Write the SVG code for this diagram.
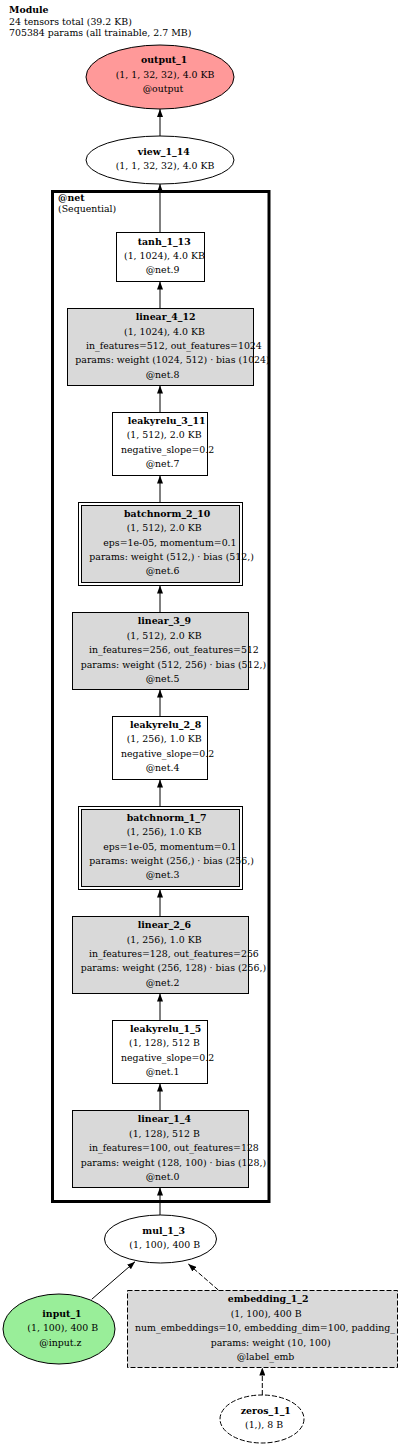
<svg xmlns="http://www.w3.org/2000/svg" width="400" height="1447" viewBox="0 0 400 1447">
<style>
text{font-family:"DejaVu Serif","Liberation Serif",serif;font-size:9.4px;fill:#000}
.b{font-weight:bold}
.n{stroke:#000;stroke-width:1;fill:#fff}
.g{fill:#d9d9d9}
.d{stroke-dasharray:5,2}
.e{stroke:#000;stroke-width:1;fill:none}
</style>
<defs>
<marker id="ah" markerUnits="userSpaceOnUse" markerWidth="8" markerHeight="6" refX="8" refY="3" orient="auto">
<path d="M0,0 L8,3 L0,6 z" fill="#000"/>
</marker>
</defs>
<g id="header">
<text class="b" x="9" y="13">Module</text>
<text x="9" y="24.5">24 tensors total (39.2 KB)</text>
<text x="9" y="35.5">705384 params (all trainable, 2.7 MB)</text>
</g>
<g id="cluster_net">
<rect x="52.5" y="191.5" width="216.5" height="1010" fill="none" stroke="#000" stroke-width="3"/>
<text class="b" x="58" y="201">@net</text>
<text x="58" y="212">(Sequential)</text>
</g>
<g id="edges">
<line class="e" x1="160" y1="136" x2="160" y2="109" marker-end="url(#ah)"/>
<line class="e" x1="160" y1="232.5" x2="160" y2="184" marker-end="url(#ah)"/>
<line class="e" x1="160" y1="308.5" x2="160" y2="281.5" marker-end="url(#ah)"/>
<line class="e" x1="160" y1="412.5" x2="160" y2="385.5" marker-end="url(#ah)"/>
<line class="e" x1="160" y1="502.5" x2="160" y2="475.5" marker-end="url(#ah)"/>
<line class="e" x1="160" y1="612.5" x2="160" y2="585.5" marker-end="url(#ah)"/>
<line class="e" x1="160" y1="716.5" x2="160" y2="689.5" marker-end="url(#ah)"/>
<line class="e" x1="160" y1="806.5" x2="160" y2="779.5" marker-end="url(#ah)"/>
<line class="e" x1="160" y1="916.5" x2="160" y2="889.5" marker-end="url(#ah)"/>
<line class="e" x1="160" y1="1020.5" x2="160" y2="993.5" marker-end="url(#ah)"/>
<line class="e" x1="160" y1="1110.5" x2="160" y2="1083.5" marker-end="url(#ah)"/>
<line class="e" x1="160" y1="1215" x2="160" y2="1187.5" marker-end="url(#ah)"/>
<line class="e" x1="91.7" y1="1299.3" x2="135" y2="1261.7" marker-end="url(#ah)"/>
<line class="e d" x1="218.3" y1="1290" x2="188.3" y2="1264" marker-end="url(#ah)"/>
<line class="e d" x1="262.3" y1="1395" x2="262.3" y2="1367.5" marker-end="url(#ah)"/>
</g>
<g id="output_1">
<ellipse cx="160" cy="77" rx="74" ry="32" stroke="#000" fill="#ff9999"/>
<text class="b" x="141" y="63.3">output_1</text>
<text x="115.7" y="77.7">(1, 1, 32, 32), 4.0 KB</text>
<text x="142.7" y="92.3">@output</text>
</g>
<g id="view_1_14">
<ellipse class="n" cx="160" cy="160" rx="74" ry="24"/>
<text class="b" x="137.7" y="155">view_1_14</text>
<text x="115.7" y="169.3">(1, 1, 32, 32), 4.0 KB</text>
</g>
<g id="tanh_1_13">
<rect class="n" x="116.5" y="232.5" width="88" height="49"/>
<text class="b" x="137.7" y="245">tanh_1_13</text>
<text x="124" y="259.2">(1, 1024), 4.0 KB</text>
<text x="145.7" y="273.4">@net.9</text>
</g>
<g id="linear_4_12">
<rect class="n g" x="67.5" y="308.5" width="186" height="77"/>
<text class="b" x="135.7" y="320.3">linear_4_12</text>
<text x="124" y="334.6">(1, 1024), 4.0 KB</text>
<text x="86" y="348.9">in_features=512, out_features=1024</text>
<text x="75.3" y="363.2">params: weight (1024, 512) · bias (1024)</text>
<text x="145.7" y="377.6">@net.8</text>
</g>
<g id="leakyrelu_3_11">
<rect class="n" x="112.5" y="412.5" width="95" height="63"/>
<text class="b" x="127.7" y="423.6">leakyrelu_3_11</text>
<text x="126.7" y="438.1">(1, 512), 2.0 KB</text>
<text x="121" y="452.6">negative_slope=0.2</text>
<text x="145.7" y="467.1">@net.7</text>
</g>
<g id="batchnorm_2_10">
<rect class="n" x="78.5" y="502.5" width="164" height="83"/>
<rect class="n g" x="81.5" y="505.5" width="158" height="77"/>
<text class="b" x="124" y="516.8">batchnorm_2_10</text>
<text x="126.7" y="531.2">(1, 512), 2.0 KB</text>
<text x="103.3" y="545.6">eps=1e-05, momentum=0.1</text>
<text x="89.3" y="560">params: weight (512,) · bias (512,)</text>
<text x="145.7" y="574.4">@net.6</text>
</g>
<g id="linear_3_9">
<rect class="n g" x="72.5" y="612.5" width="176" height="77"/>
<text class="b" x="137.7" y="624.4">linear_3_9</text>
<text x="126.7" y="638.8">(1, 512), 2.0 KB</text>
<text x="89" y="653.2">in_features=256, out_features=512</text>
<text x="80.7" y="667.6">params: weight (512, 256) · bias (512,)</text>
<text x="145.7" y="682">@net.5</text>
</g>
<g id="leakyrelu_2_8">
<rect class="n" x="112.5" y="716.5" width="95" height="63"/>
<text class="b" x="130" y="727.6">leakyrelu_2_8</text>
<text x="126.7" y="742.1">(1, 256), 1.0 KB</text>
<text x="121" y="756.6">negative_slope=0.2</text>
<text x="145.7" y="771.1">@net.4</text>
</g>
<g id="batchnorm_1_7">
<rect class="n" x="78.5" y="806.5" width="164" height="83"/>
<rect class="n g" x="81.5" y="809.5" width="158" height="77"/>
<text class="b" x="126.7" y="820.8">batchnorm_1_7</text>
<text x="126.7" y="835.2">(1, 256), 1.0 KB</text>
<text x="103.3" y="849.6">eps=1e-05, momentum=0.1</text>
<text x="89.3" y="864">params: weight (256,) · bias (256,)</text>
<text x="145.7" y="878.4">@net.3</text>
</g>
<g id="linear_2_6">
<rect class="n g" x="72.5" y="916.5" width="176" height="77"/>
<text class="b" x="137.7" y="928.2">linear_2_6</text>
<text x="126.7" y="942.6">(1, 256), 1.0 KB</text>
<text x="89" y="957">in_features=128, out_features=256</text>
<text x="80.7" y="971.4">params: weight (256, 128) · bias (256,)</text>
<text x="145.7" y="985.8">@net.2</text>
</g>
<g id="leakyrelu_1_5">
<rect class="n" x="112.5" y="1020.5" width="95" height="63"/>
<text class="b" x="130" y="1031.8">leakyrelu_1_5</text>
<text x="129" y="1046.3">(1, 128), 512 B</text>
<text x="121" y="1060.8">negative_slope=0.2</text>
<text x="145.7" y="1075.3">@net.1</text>
</g>
<g id="linear_1_4">
<rect class="n g" x="72.5" y="1110.5" width="176" height="77"/>
<text class="b" x="137.7" y="1122.3">linear_1_4</text>
<text x="129" y="1136.7">(1, 128), 512 B</text>
<text x="89" y="1151.1">in_features=100, out_features=128</text>
<text x="80.7" y="1165.5">params: weight (128, 100) · bias (128,)</text>
<text x="145.7" y="1179.9">@net.0</text>
</g>
<g id="mul_1_3">
<ellipse class="n" cx="160.5" cy="1239" rx="56" ry="24"/>
<text class="b" x="142.3" y="1233.5">mul_1_3</text>
<text x="129.3" y="1247.8">(1, 100), 400 B</text>
</g>
<g id="input_1">
<ellipse cx="59" cy="1329" rx="56" ry="35" stroke="#000" fill="#99ee99"/>
<text class="b" x="42.3" y="1316.8">input_1</text>
<text x="27.3" y="1331.2">(1, 100), 400 B</text>
<text x="39.3" y="1345.6">@input.z</text>
</g>
<g id="embedding_1_2">
<rect class="n g d" x="127.5" y="1290.5" width="270" height="77"/>
<text class="b" x="227.7" y="1302">embedding_1_2</text>
<text x="230.7" y="1316.5">(1, 100), 400 B</text>
<text x="135" y="1331">num_embeddings=10, embedding_dim=100, padding_</text>
<text x="210.7" y="1345.5">params: weight (10, 100)</text>
<text x="236.7" y="1360">@label_emb</text>
</g>
<g id="zeros_1_1">
<ellipse class="n d" cx="262" cy="1419" rx="42" ry="24"/>
<text class="b" x="240.7" y="1413.5">zeros_1_1</text>
<text x="245" y="1427.8">(1,), 8 B</text>
</g>
</svg>
